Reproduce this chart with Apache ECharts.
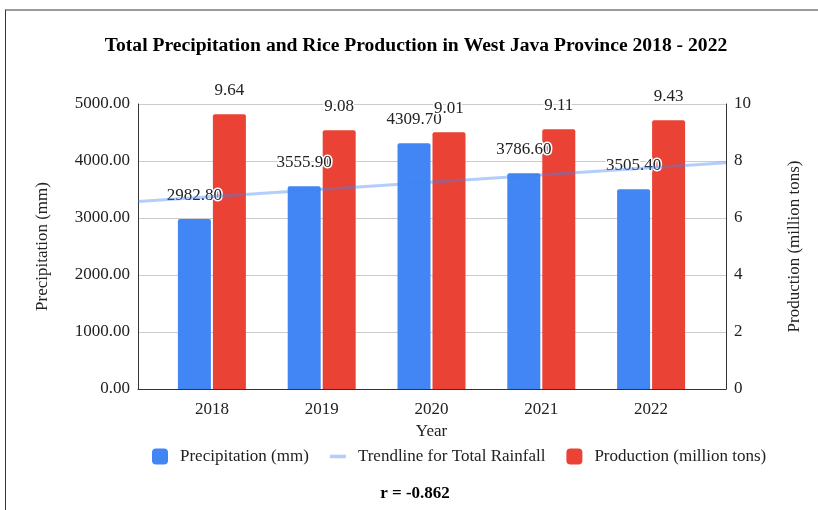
<!DOCTYPE html>
<html>
<head>
<meta charset="utf-8">
<script src="https://cdn.jsdelivr.net/npm/echarts@6/dist/echarts.min.js"></script>
<style>
  html, body { margin: 0; padding: 0; background: #fff; }
  #chart { width: 818px; height: 510px; position: relative; }
  .frame { position: absolute; left: 5px; top: 9px; right: 0; bottom: 0;
           border-top: 2px solid #9a9a9a; border-left: 1px solid #333; pointer-events: none; }
</style>
</head>
<body>
<div id="chart"></div>
<div class="frame"></div>
<script>
const years = ['2018', '2019', '2020', '2021', '2022'];
const precipitation = [2982.8, 3555.9, 4309.7, 3786.6, 3505.4];
const production = [9.64, 9.08, 9.01, 9.11, 9.43];
// trendline values read at the left and right edge of the plot
const trendEnds = [3290, 3970];
const precipTicks = [0, 1000, 2000, 3000, 4000, 5000];
const prodTicks = [0, 2, 4, 6, 8, 10];

const serif = 'Liberation Serif';
const blue = '#4285f4', red = '#ea4335';

let chart = echarts.init(document.getElementById('chart'));
let labelStyle = {
  show: true,
  position: 'top',
  distance: 15,
  fontFamily: serif,
  fontSize: 17,
  color: '#222',
  textBorderColor: '#fff',
  textBorderWidth: 3
};
let axisText = { fontFamily: serif, fontSize: 17, color: '#222' };

let option = {
  animation: false,
  title: [
    {
      text: 'Total Precipitation and Rice Production in West Java Province 2018 - 2022',
      left: 411,
      textAlign: 'center',
      top: 31,
      textStyle: { fontFamily: serif, fontSize: 19.6, fontWeight: 'bold', color: '#000' }
    },
    {
      text: 'r = -0.862',
      left: 410,
      textAlign: 'center',
      top: 480,
      textStyle: { fontFamily: serif, fontSize: 17, fontWeight: 'bold', color: '#000' }
    }
  ],
  legend: {
    top: 448,
    left: 152,
    padding: 0,
    itemWidth: 16,
    itemHeight: 16,
    itemGap: 21,
    textStyle: { fontFamily: serif, fontSize: 17, color: '#222', padding: [0, 0, 0, 7] },
    data: [
      { name: 'Precipitation (mm)', icon: 'roundRect' },
      { name: 'Trendline for Total Rainfall', icon: 'path://M0,0h18v4h-18z' },
      { name: 'Production (million tons)', icon: 'roundRect' }
    ]
  },
  grid: [
    { left: 138, right: 92, top: 104, bottom: 121 },
    { left: 157, right: 112, top: 104, bottom: 121 }
  ],
  xAxis: [
    {
      type: 'value', gridIndex: 0, min: 0, max: 1,
      axisLine: { show: true, lineStyle: { color: '#333' } },
      axisTick: { show: false }, axisLabel: { show: false }, splitLine: { show: false }
    },
    {
      type: 'category', gridIndex: 1, data: years,
      axisLine: { show: false }, axisTick: { show: false },
      axisLabel: Object.assign({ margin: 12 }, axisText),
      name: 'Year', nameLocation: 'middle', nameGap: 29,
      nameTextStyle: axisText
    }
  ],
  yAxis: [
    {
      type: 'value', gridIndex: 0, position: 'left',
      min: precipTicks[0], max: precipTicks[precipTicks.length - 1], interval: 1000,
      axisLine: { show: true, lineStyle: { color: '#333' } },
      axisTick: { show: false },
      axisLabel: Object.assign({ margin: 8, formatter: v => v.toFixed(2) }, axisText),
      splitLine: { show: true, lineStyle: { color: '#ccc' } },
      name: 'Precipitation (mm)', nameLocation: 'middle', nameRotate: 90, nameGap: 87,
      nameTextStyle: axisText
    },
    {
      type: 'value', gridIndex: 0, position: 'right',
      min: prodTicks[0], max: prodTicks[prodTicks.length - 1], interval: 2,
      axisLine: { show: true, lineStyle: { color: '#333' } },
      axisTick: { show: false },
      axisLabel: Object.assign({ margin: 8 }, axisText),
      splitLine: { show: false },
      name: 'Production (million tons)', nameLocation: 'middle', nameRotate: 90, nameGap: 60,
      nameTextStyle: axisText
    },
    { type: 'value', gridIndex: 1, min: 0, max: 5000, show: false },
    { type: 'value', gridIndex: 1, min: 0, max: 10, show: false }
  ],
  series: [
    {
      name: 'Precipitation (mm)',
      type: 'bar',
      xAxisIndex: 1, yAxisIndex: 2,
      barWidth: 33,
      barGap: '6%',
      data: precipitation,
      itemStyle: { color: blue, borderRadius: [2, 2, 0, 0] },
      label: Object.assign({}, labelStyle, { formatter: p => p.value.toFixed(2) })
    },
    {
      name: 'Trendline for Total Rainfall',
      type: 'line',
      xAxisIndex: 0, yAxisIndex: 0,
      data: [[0, trendEnds[0]], [1, trendEnds[1]]],
      symbol: 'none',
      z: 5,
      itemStyle: { color: 'rgba(66,133,244,0.4)' },
      lineStyle: { width: 3, color: 'rgba(66,133,244,0.4)' }
    },
    {
      name: 'Production (million tons)',
      type: 'bar',
      xAxisIndex: 1, yAxisIndex: 3,
      barWidth: 33,
      data: production,
      itemStyle: { color: red, borderRadius: [2, 2, 0, 0] },
      label: Object.assign({}, labelStyle, { formatter: p => String(p.value) })
    }
  ]
};
chart.setOption(option);
window.addEventListener('resize', () => {
  chart.resize();
});
</script>
</body>
</html>
